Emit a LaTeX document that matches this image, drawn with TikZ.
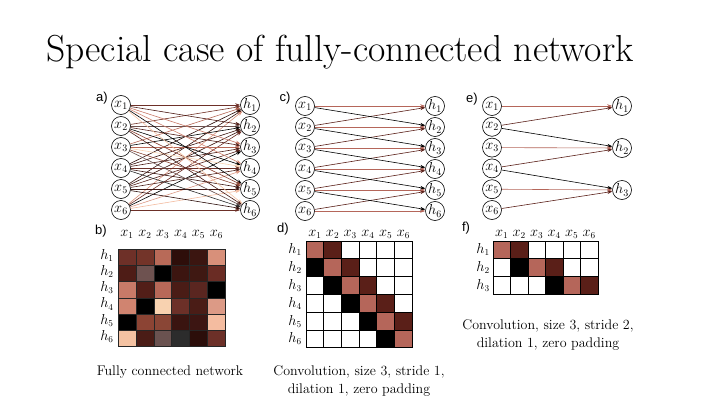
\documentclass[tikz,border=0pt]{standalone}
\usepackage{fontspec}
\newfontfamily\lblfont{Liberation Sans}
\usetikzlibrary{arrows.meta}
% matrix b colours (row i, column j)
\definecolor{mb11}{HTML}{6E3028}\definecolor{mb12}{HTML}{733429}\definecolor{mb13}{HTML}{B86A58}\definecolor{mb14}{HTML}{2E0E0A}\definecolor{mb15}{HTML}{3B1510}\definecolor{mb16}{HTML}{D8907A}
\definecolor{mb21}{HTML}{4E1C16}\definecolor{mb22}{HTML}{6E5250}\definecolor{mb23}{HTML}{000000}\definecolor{mb24}{HTML}{3C1510}\definecolor{mb25}{HTML}{3F1812}\definecolor{mb26}{HTML}{6A2C24}
\definecolor{mb31}{HTML}{C87A68}\definecolor{mb32}{HTML}{521E18}\definecolor{mb33}{HTML}{B86858}\definecolor{mb34}{HTML}{4A1C16}\definecolor{mb35}{HTML}{5A2620}\definecolor{mb36}{HTML}{000000}
\definecolor{mb41}{HTML}{D08470}\definecolor{mb42}{HTML}{000000}\definecolor{mb43}{HTML}{F8D2B0}\definecolor{mb44}{HTML}{6C3028}\definecolor{mb45}{HTML}{4A1C16}\definecolor{mb46}{HTML}{DC9A86}
\definecolor{mb51}{HTML}{000000}\definecolor{mb52}{HTML}{8C4434}\definecolor{mb53}{HTML}{8A4636}\definecolor{mb54}{HTML}{3A1410}\definecolor{mb55}{HTML}{3C1512}\definecolor{mb56}{HTML}{F4BCA0}
\definecolor{mb61}{HTML}{F4C2A2}\definecolor{mb62}{HTML}{4A1C16}\definecolor{mb63}{HTML}{6A5250}\definecolor{mb64}{HTML}{2C2C2C}\definecolor{mb65}{HTML}{2C0E0A}\definecolor{mb66}{HTML}{6C3028}
\definecolor{cdiag}{HTML}{B5665A}
\definecolor{csup}{HTML}{5A1F18}
\definecolor{csub}{HTML}{000000}
\begin{document}
\begin{tikzpicture}[x=1pt,y=-1pt,
  neuron/.style={circle,draw,line width=0.6pt,minimum size=19pt,inner sep=0pt,fill=white,font=\fontsize{14}{16}\selectfont},
  edge/.style={line width=0.6pt,-{Stealth[length=5pt,width=3.5pt]}},
  cellb/.style={rectangle,draw=black!85,line width=0.6pt,minimum width=17.9pt,minimum height=16.2pt,inner sep=0pt,outer sep=0pt},
  celld/.style={rectangle,draw=black,line width=0.9pt,minimum width=17.7pt,minimum height=17.8pt,inner sep=0pt,outer sep=0pt,fill=white},
  cellf/.style={rectangle,draw=black,line width=0.9pt,minimum width=17.5pt,minimum height=17.7pt,inner sep=0pt,outer sep=0pt,fill=white},
  axlbl/.style={font=\fontsize{13.5}{15}\selectfont,inner sep=0pt},
  plabel/.style={font=\lblfont\fontsize{13}{15}\selectfont,inner sep=0pt},
  caption/.style={font=\fontsize{14}{18}\selectfont,align=center,inner sep=0pt}]
\useasboundingbox (0,0) rectangle (703,409);
\fill[white] (0,0) rectangle (703,409);
\node[anchor=base west,inner sep=0pt] (title) at (46,62) {\fontsize{37.6}{44}\selectfont Special case of fully-connected network};

% ---------- panel a ----------
\node[plabel] (la) at (102,98) {a)};
\foreach \i in {1,...,6} {
  \node[neuron] (ax\i) at (121,{105+21*(\i-1)}) {$x_{\i}$};
  \node[neuron] (ah\i) at (250,{105+21*(\i-1)}) {$h_{\i}$};
}
\foreach \i in {1,...,6} {
  \foreach \j in {1,...,6} {
    \draw[edge,color=mb\i\j] (ax\j) -- (ah\i);
  }
}

% ---------- panel b ----------
\node[plabel] (lb) at (101,231) {b)};
\foreach \i in {1,...,6} {
  \foreach \j in {1,...,6} {
    \node[cellb,fill=mb\i\j] (b\i\j) at ({118+17.9*(\j-0.5)},{249.3+16.2*(\i-0.5)}) {};
  }
  \node[axlbl] (bc\i) at ({118+17.9*(\i-0.5)},234) {$x_{\i}$};
  \node[axlbl] (br\i) at (107,{249.3+16.2*(\i-0.5)-2}) {$h_{\i}$};
}
\node[caption] (capb) at (170,372) {Fully connected network};

% ---------- panel c ----------
\node[plabel] (lc) at (285,98) {c)};
\foreach \i in {1,...,6} {
  \node[neuron] (cx\i) at (305,{106+21*(\i-1)}) {$x_{\i}$};
  \node[neuron] (ch\i) at (435,{106+21*(\i-1)}) {$h_{\i}$};
}
\foreach \i in {1,...,6} { \draw[edge,color=cdiag] (cx\i) -- (ch\i); }
\foreach \i [evaluate=\i as \n using int(\i+1)] in {1,...,5} {
  \draw[edge,color=csup] (cx\n) -- (ch\i);
  \draw[edge,color=csub] (cx\i) -- (ch\n);
}

% ---------- panel d ----------
\node[plabel] (ld) at (283,229) {d)};
\foreach \i in {1,...,6} {
  \foreach \j in {1,...,6} {
    \node[celld] (d\i\j) at ({306+17.7*(\j-0.5)},{241+17.8*(\i-0.5)}) {};
  }
  \node[axlbl] (dc\i) at ({306+17.7*(\i-0.5)},234) {$x_{\i}$};
  \node[axlbl] (dr\i) at (295,{241+17.8*(\i-0.5)}) {$h_{\i}$};
}
\foreach \i in {1,...,6} { \node[celld,fill=cdiag] at (d\i\i) {}; }
\foreach \i [evaluate=\i as \n using int(\i+1)] in {1,...,5} {
  \node[celld,fill=csup] at (d\i\n) {};
  \node[celld,fill=csub] at (d\n\i) {};
}
\node[caption] (capd) at (359,381) {Convolution, size 3, stride 1,\\dilation 1, zero padding};

% ---------- panel e ----------
\node[plabel] (le) at (472,99) {e)};
\foreach \i in {1,...,6} {
  \node[neuron] (ex\i) at (492,{106+20.8*(\i-1)}) {$x_{\i}$};
}
\foreach \k in {1,2,3} {
  \node[neuron] (eh\k) at (622,{106+42*(\k-1)}) {$h_{\k}$};
}
\draw[edge,color=cdiag] (ex1) -- (eh1);
\draw[edge,color=csup] (ex2) -- (eh1);
\draw[edge,color=csub] (ex2) -- (eh2);
\draw[edge,color=cdiag] (ex3) -- (eh2);
\draw[edge,color=csup] (ex4) -- (eh2);
\draw[edge,color=csub] (ex4) -- (eh3);
\draw[edge,color=cdiag] (ex5) -- (eh3);
\draw[edge,color=csup] (ex6) -- (eh3);

% ---------- panel f ----------
\node[plabel] (lf) at (466,228) {f)};
\foreach \i in {1,2,3} {
  \foreach \j in {1,...,6} {
    \node[cellf] (f\i\j) at ({493+17.5*(\j-0.5)},{241+17.7*(\i-0.5)}) {};
  }
  \node[axlbl] (fr\i) at (483,{241+17.7*(\i-0.5)}) {$h_{\i}$};
}
\foreach \j in {1,...,6} {
  \node[axlbl] (fc\j) at ({493+17.5*(\j-0.5)},234) {$x_{\j}$};
}
\node[cellf,fill=cdiag] at (f11) {};
\node[cellf,fill=csup] at (f12) {};
\node[cellf,fill=csub] at (f22) {};
\node[cellf,fill=cdiag] at (f23) {};
\node[cellf,fill=csup] at (f24) {};
\node[cellf,fill=csub] at (f34) {};
\node[cellf,fill=cdiag] at (f35) {};
\node[cellf,fill=csup] at (f36) {};
\node[caption] (capf) at (548,335) {Convolution, size 3, stride 2,\\dilation 1, zero padding};
\end{tikzpicture}
\end{document}
